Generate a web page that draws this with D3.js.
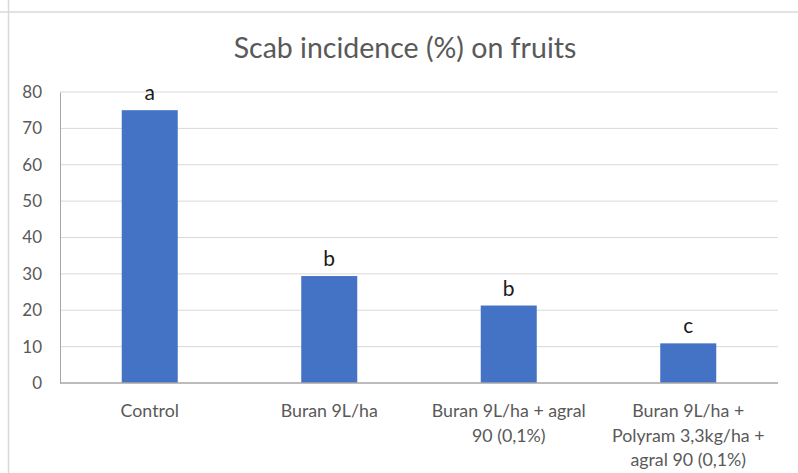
<!DOCTYPE html>
<html>
<head>
<meta charset="utf-8">
<script src="https://d3js.org/d3.v7.min.js"></script>
<style>
  body { margin: 0; background: #fff; }
  svg { display: block; }
</style>
</head>
<body>
<div id="chart"></div>
<script>
// data
var categories = [
  ["Control"],
  ["Buran 9L/ha"],
  ["Buran 9L/ha + agral", "90 (0,1%)"],
  ["Buran 9L/ha +", "Polyram 3,3kg/ha +", "agral 90 (0,1%)"]
];
var values = [75, 29.4, 21.3, 10.9];
var letters = ["a", "b", "b", "c"];
var yTicks = [0, 10, 20, 30, 40, 50, 60, 70, 80];

var width = 798, height = 473;
var margin = {left: 60, right: 20, top: 92, bottom: 90};
var font = "Lato, 'Open Sans', sans-serif";

var svg = d3.select("#chart").append("svg")
  .attr("width", width)
  .attr("height", height);

// frame remnants
svg.append("line").attr("x1", 0).attr("x2", width).attr("y1", 12).attr("y2", 12)
  .attr("stroke", "#d9d9d9").attr("stroke-width", 1.5);
svg.append("line").attr("x1", 8.5).attr("x2", 8.5).attr("y1", 0).attr("y2", height)
  .attr("stroke", "#d9d9d9").attr("stroke-width", 1.5);

var x = d3.scaleBand()
  .domain(d3.range(categories.length))
  .range([margin.left, width - margin.right])
  .padding(0);

var y = d3.scaleLinear()
  .domain([0, 80])
  .range([height - margin.bottom, margin.top]);

// gridlines
svg.append("g")
  .selectAll("line")
  .data(yTicks.filter(function(d) { return d > 0; }))
  .enter().append("line")
  .attr("x1", margin.left).attr("x2", width - margin.right)
  .attr("y1", function(d) { return y(d); })
  .attr("y2", function(d) { return y(d); })
  .attr("stroke", "#d9d9d9").attr("stroke-width", 1);

// y axis
var yAxis = svg.append("g")
  .attr("transform", "translate(" + margin.left + ",0)")
  .call(d3.axisLeft(y).tickValues(yTicks).tickSize(0).tickPadding(18));
yAxis.select(".domain").attr("stroke", "#a6a6a6");
yAxis.selectAll("text")
  .attr("font-family", font)
  .attr("font-size", 17)
  .attr("fill", "#595959");

// bars
var barW = x.bandwidth() * 0.312;
svg.append("g")
  .selectAll("rect")
  .data(values)
  .enter().append("rect")
  .attr("x", function(d, i) { return x(i) + x.bandwidth() / 2 - barW / 2; })
  .attr("y", function(d) { return y(d); })
  .attr("width", barW)
  .attr("height", function(d) { return y(0) - y(d); })
  .attr("fill", "#4472c4");

// x axis line
svg.append("line")
  .attr("x1", margin.left).attr("x2", width - margin.right)
  .attr("y1", y(0)).attr("y2", y(0))
  .attr("stroke", "#a6a6a6").attr("stroke-width", 1.5);

// significance letters
svg.append("g")
  .selectAll("text")
  .data(values)
  .enter().append("text")
  .attr("x", function(d, i) { return x(i) + x.bandwidth() / 2; })
  .attr("y", function(d) { return y(d) - 10; })
  .attr("text-anchor", "middle")
  .attr("font-family", font)
  .attr("font-size", 21)
  .attr("fill", "#1a1a1a")
  .text(function(d, i) { return letters[i]; });

// category labels
var catG = svg.append("g");
categories.forEach(function(lines, i) {
  var t = catG.append("text")
    .attr("x", x(i) + x.bandwidth() / 2)
    .attr("y", 417)
    .attr("text-anchor", "middle")
    .attr("font-family", font)
    .attr("font-size", 17.8)
    .attr("fill", "#595959");
  lines.forEach(function(l, j) {
    t.append("tspan")
      .attr("x", x(i) + x.bandwidth() / 2)
      .attr("dy", j === 0 ? 0 : 24.5)
      .text(l);
  });
});

// title
svg.append("text")
  .attr("x", 405)
  .attr("y", 58)
  .attr("text-anchor", "middle")
  .attr("font-family", font)
  .attr("font-size", 28.5)
  .attr("fill", "#595959")
  .text("Scab incidence (%) on fruits");
</script>
</body>
</html>
